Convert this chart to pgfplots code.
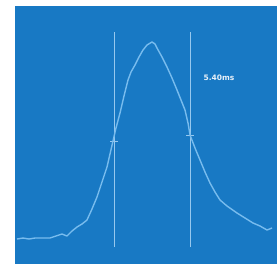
\documentclass[border=0pt]{standalone}
\usepackage{pgfplots}
\pgfplotsset{compat=1.18}
\usepackage{fontspec}
\setmainfont{DejaVu Sans}
\definecolor{bgblue}{RGB}{24,121,196}
\definecolor{curve}{RGB}{120,188,238}
\definecolor{vline}{RGB}{150,200,238}
\begin{document}
\begin{tikzpicture}
\begin{axis}[
  scale only axis, width=262pt, height=258pt,
  xmin=0, xmax=262, ymin=0, ymax=258,
  axis line style={draw=none}, ticks=none,
  axis background/.style={fill=bgblue},
  clip=false,
]
\addplot[vline, line width=0.7pt] coordinates {(99,17) (99,232)};
\addplot[vline, line width=0.7pt] coordinates {(175,17) (175,232)};
\addplot[vline, line width=0.9pt] coordinates {(95,123) (103,123)};
\addplot[vline, line width=0.9pt] coordinates {(171,129) (179,129)};
\addplot[curve, line width=1.4pt, line join=round] coordinates {
(2,25) (8,26) (14,25) (20,26) (28,26) (35,26) (41,28) (47,30) (52,28) (57,33) (62,37) (67,40) (72,44)
(77,55) (82,67) (87,82) (92,97) (95,110) (98,123) (101,136) (105,151) (109,168) (113,184)
(116,192) (120,199) (124,207) (128,214) (132,219) (137,222) (140,220) (142,216) (147,207)
(152,197) (157,186) (162,174) (166,164) (170,154) (173,141) (175,129) (180,116) (185,104)
(190,92) (195,81) (200,72) (205,64) (212,58) (222,51) (230,46) (238,41) (245,38) (252,34) (257,36)
};
\node[text=white!90!bgblue, font=\fontsize{7.5}{9}\selectfont\bfseries] at (axis cs:204,186) {5.40ms};
\end{axis}
\path (current axis.south west) ++(-15pt,-2pt) (current axis.north east) ++(1pt,6pt);
\end{tikzpicture}
\end{document}
